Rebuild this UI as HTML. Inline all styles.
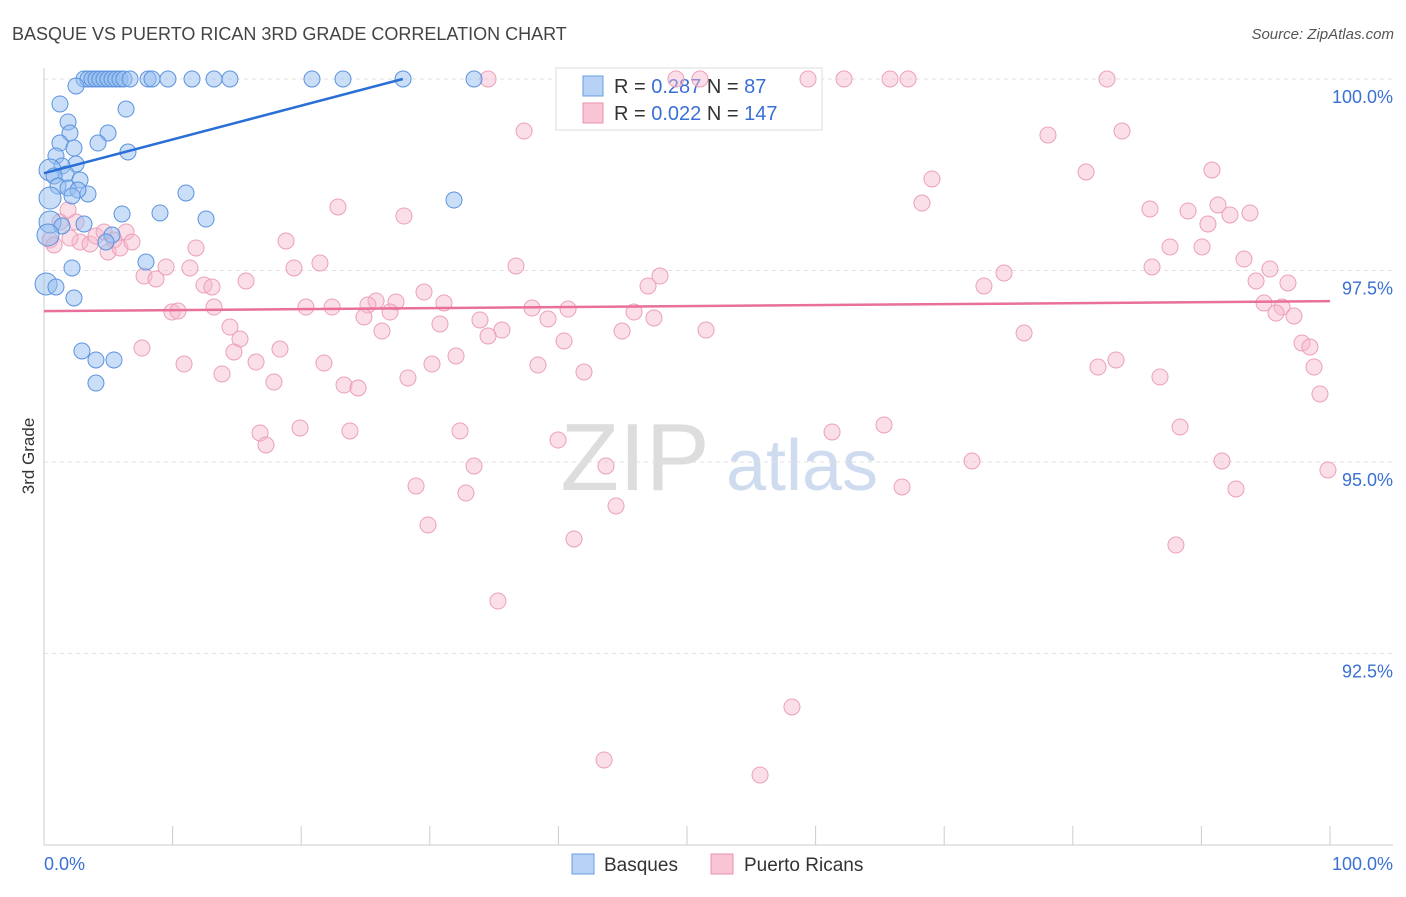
<!DOCTYPE html>
<html><head><meta charset="utf-8"><style>
body{margin:0;background:#fff;font-family:"Liberation Sans",sans-serif}
svg text{font-family:"Liberation Sans",sans-serif}
</style></head><body>
<svg id="chart" width="1406" height="892" xmlns="http://www.w3.org/2000/svg">
<text x="12" y="40" font-size="18" fill="#444">BASQUE VS PUERTO RICAN 3RD GRADE CORRELATION CHART</text>
<text x="1394" y="39" font-size="15" fill="#555" text-anchor="end" font-style="italic">Source: ZipAtlas.com</text>
<text x="34" y="456" font-size="17" fill="#333" text-anchor="middle" transform="rotate(-90 34 456)">3rd Grade</text>
<g><text x="635" y="490" font-size="96" fill="#ddd" font-family="Liberation Serif" text-anchor="middle">ZIP</text><text x="802" y="490" font-size="72" fill="#cfdcf0" text-anchor="middle">atlas</text></g>
<g id="grid"></g>
<g>
<rect x="556" y="68" width="266" height="62" fill="#fff" stroke="#ddd"/>
<rect x="583" y="76" width="20" height="20" fill="#b7d2f5" stroke="#6a9de0"/>
<text x="614" y="93" font-size="20" fill="#333">R = <tspan fill="#3a70d4">0.287</tspan>   N =  <tspan fill="#3a70d4">87</tspan></text>
<rect x="583" y="103" width="20" height="20" fill="#f9c5d4" stroke="#e892ae"/>
<text x="614" y="120" font-size="20" fill="#333">R = <tspan fill="#3a70d4">0.022</tspan>   N = <tspan fill="#3a70d4">147</tspan></text>
</g>
<g id="pts"></g><g id="trend"></g>
<g>
<rect x="572" y="854" width="22" height="20" fill="#b7d2f5" stroke="#6a9de0"/>
<text x="604" y="871" font-size="19" fill="#333">Basques</text>
<rect x="711" y="854" width="22" height="20" fill="#f9c5d4" stroke="#e892ae"/>
<text x="744" y="871" font-size="19" fill="#333">Puerto Ricans</text>
</g>
</svg>
<script>
const xTicks=[0,10,20,30,40,50,60,70,80,90,100];
const yTicks=[100,97.5,95,92.5];
const yTickLabels=["100.0%","97.5%","95.0%","92.5%"];
const bluePx=[[84,79],[88,79],[92,79],[96,79],[100,79],[104,79],[108,79],[112,79],[116,79],[120,79],[124,79],[130,79],[148,79],[152,79],[168,79],[192,79],[214,79],[230,79],[312,79],[343,79],[403,79],[474,79],[76,86],[60,104],[126,109],[68,122],[70,133],[108,133],[98,143],[60,143],[74,148],[128,152],[56,156],[76,164],[62,166],[50,170],[66,174],[54,176],[80,180],[58,186],[68,188],[88,194],[186,193],[78,190],[50,198],[72,196],[454,200],[122,214],[160,213],[206,219],[50,222],[84,224],[62,226],[48,235],[112,235],[106,242],[146,262],[72,268],[46,284],[56,287],[74,298],[82,351],[96,360],[114,360],[96,383]];
const pinkPx=[[488,79],[676,79],[700,79],[808,79],[844,79],[890,79],[908,79],[1107,79],[524,131],[1048,135],[1122,131],[1086,172],[1212,170],[932,179],[922,203],[338,207],[404,216],[1150,209],[1188,211],[1218,205],[1230,215],[1250,213],[1208,224],[286,241],[196,248],[1170,247],[1202,247],[1244,259],[516,266],[1152,267],[294,268],[320,263],[1004,273],[1270,269],[660,276],[1256,281],[1288,283],[984,286],[648,286],[246,281],[204,285],[212,287],[424,292],[144,276],[156,279],[166,267],[190,268],[1264,303],[1282,307],[306,307],[332,307],[376,301],[396,302],[444,303],[214,307],[172,312],[178,311],[368,305],[390,312],[364,317],[532,308],[568,309],[634,312],[654,318],[548,319],[480,320],[440,324],[230,327],[382,331],[502,330],[488,336],[622,331],[706,330],[1024,333],[1276,313],[1294,316],[240,339],[564,341],[1302,343],[1310,347],[142,348],[234,352],[280,349],[456,356],[1116,360],[1098,367],[1314,367],[256,362],[324,363],[432,364],[538,365],[184,364],[222,374],[274,382],[408,378],[584,372],[344,385],[358,388],[1160,377],[1320,394],[260,433],[300,428],[350,431],[460,431],[558,440],[266,445],[832,432],[884,425],[1180,427],[474,466],[606,466],[972,461],[1222,461],[1328,470],[416,486],[466,493],[902,487],[1236,489],[616,506],[428,525],[574,539],[1176,545],[498,601],[792,707],[604,760],[760,775],[50,240],[54,245],[60,222],[68,210],[76,222],[80,242],[90,244],[96,236],[104,232],[108,252],[114,240],[120,248],[126,232],[132,242],[70,238]];
const blueX=bluePx.map(p=>+((p[0]-44)/12.86).toFixed(2));
const blueY=bluePx.map(p=>+(100-(p[1]-79)/76.6).toFixed(3));
const pinkX=pinkPx.map(p=>+((p[0]-44)/12.86).toFixed(2));
const pinkY=pinkPx.map(p=>+(100-(p[1]-79)/76.6).toFixed(3));
const blueTrend=[[0,98.77],[27.9,100]];
const pinkTrend=[[0,96.97],[100,97.1]];
const sx=v=>44+v*12.86, sy=v=>79+(100-v)*76.6;
const NS="http://www.w3.org/2000/svg";
function mk(tag,at,parent){const e=document.createElementNS(NS,tag);for(const k in at)e.setAttribute(k,at[k]);parent.appendChild(e);return e;}
const g=document.getElementById('grid');
yTicks.forEach((t,i)=>{
 const l=mk('line',{x1:44,x2:1393,y1:sy(t),y2:sy(t),stroke:'#e2e2e2','stroke-dasharray':'4,4'},g);
 
 
 const tx=mk('text',{x:1393,y:sy(t)+24,'font-size':18,fill:'#3a70d4','text-anchor':'end'},g);
 tx.textContent=yTickLabels[i];
 
 
});
const ax=mk('line',{x1:44,x2:1393,y1:845,y2:845,stroke:'#ccc'},g);


const ay=mk('line',{x1:44,x2:44,y1:68,y2:845,stroke:'#ccc'},g);


xTicks.forEach(t=>{const l=mk('line',{x1:sx(t),x2:sx(t),y1:826,y2:845,stroke:'#ccc'},g);
 
 });
const xl=mk('text',{x:44,y:870,'font-size':18,fill:'#3a70d4'},g);xl.textContent='0.0%';


const xr=mk('text',{x:1393,y:870,'font-size':18,fill:'#3a70d4','text-anchor':'end'},g);xr.textContent='100.0%';


const P=document.getElementById('pts');
pinkX.forEach((x,i)=>{const c=mk('circle',{cx:sx(x),cy:sy(pinkY[i]),r:8,fill:'rgba(247,184,203,0.45)',stroke:'#eca0b8','stroke-width':1},P);
 
 });
blueX.forEach((x,i)=>{const c=mk('circle',{cx:sx(x),cy:sy(blueY[i]),r:x<0.5?11:8,fill:'rgba(150,190,240,0.5)',stroke:'#5b93e0','stroke-width':1},P);
 
 });
const T=document.getElementById('trend');
const b=mk('line',{x1:sx(blueTrend[0][0]),y1:sy(blueTrend[0][1]),x2:sx(blueTrend[1][0]),y2:sy(blueTrend[1][1]),stroke:'#2a6fd6','stroke-width':2.5},T);


const p=mk('line',{x1:sx(pinkTrend[0][0]),y1:sy(pinkTrend[0][1]),x2:sx(pinkTrend[1][0]),y2:sy(pinkTrend[1][1]),stroke:'#e8709a','stroke-width':2.5},T);


</script>
</body></html>
